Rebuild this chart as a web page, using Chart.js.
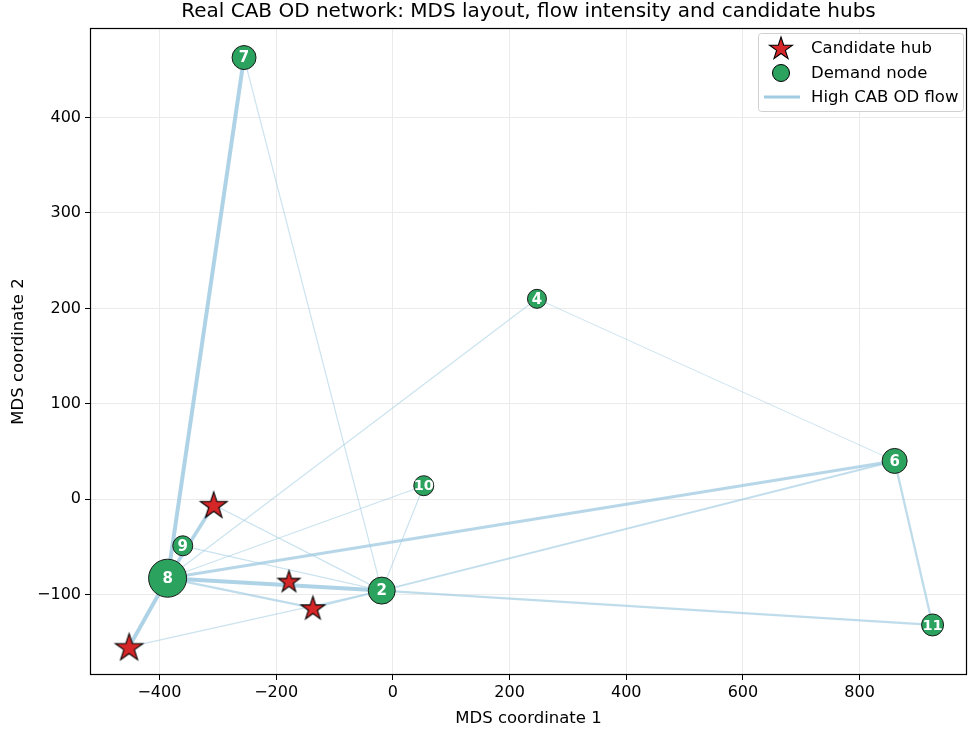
<!DOCTYPE html>
<html>
<head>
<meta charset="utf-8">
<script src="https://cdn.jsdelivr.net/npm/chart.js@4/dist/chart.umd.min.js"></script>
<style>
  html, body { margin: 0; padding: 0; background: #fff; overflow: hidden; width: 968px; height: 729px; }
  canvas { display: block; }
</style>
</head>
<body>
<canvas id="mdsChart" width="987" height="729"></canvas>
<script>
// demand nodes (MDS coordinates)
const nodeIds = ['7', '4', '6', '10', '9', '8', '2', '11'];
const nodeX = [-255, 247, 860, 53, -360, -386, -19, 925];
const nodeY = [463, 210, 40, 14, -49, -83, -96, -132];
const nodeSize = [12, 9.5, 12.5, 10, 10, 19, 13.5, 11];

// candidate hubs
const hubIds = ['H1', 'H2', 'H3', 'H4'];
const hubX = [-307, -178, -137, -452];
const hubY = [-6, -86, -114, -155];
const hubSize = [14, 11.5, 12.5, 14.5];

// high CAB OD flows
const edgeFrom = ['7', '7', '4', '4', '6', '6', '6', '2', '10', '10', 'H1', 'H1', 'H4', 'H4', '8', '8', 'H3', '9'];
const edgeTo   = ['8', '2', '8', '6', '8', '2', '11', '11', '8', '2', '8', '2', '8', '2', '2', 'H3', '2', '2'];
const edgeFlow = [4, 1.2, 1.2, 1, 3, 2, 2.3, 2.3, 1.2, 1.2, 3.5, 1.3, 4, 1.2, 4, 2.3, 2, 1.2];

const xTicks = [-400, -200, 0, 200, 400, 600, 800];
const yTicks = [-100, 0, 100, 200, 300, 400];

const FONT = "'DejaVu Sans', sans-serif";

function pos(id) {
  let i = nodeIds.indexOf(id);
  if (i >= 0) return { x: nodeX[i], y: nodeY[i] };
  i = hubIds.indexOf(id);
  return { x: hubX[i], y: hubY[i] };
}

function starImage(r) {
  const s = Math.ceil(r * 2 + 4);
  const c = document.createElement('canvas');
  c.width = s; c.height = s;
  const g = c.getContext('2d');
  const cx = s / 2, cy = s / 2 + r * 0.08, ri = r * 0.382;
  g.beginPath();
  for (let k = 0; k < 10; k++) {
    const rad = k % 2 === 0 ? r : ri;
    const a = -Math.PI / 2 + k * Math.PI / 5;
    const px = cx + rad * Math.cos(a), py = cy + rad * Math.sin(a);
    if (k === 0) g.moveTo(px, py); else g.lineTo(px, py);
  }
  g.closePath();
  g.fillStyle = '#d62728';
  g.fill();
  g.lineWidth = 1.1;
  g.strokeStyle = '#000';
  g.stroke();
  return c;
}

const datasets = [];
datasets.push({
  label: 'Demand node',
  data: nodeX.map((x, i) => ({ x: x, y: nodeY[i] })),
  pointRadius: nodeSize,
  pointHoverRadius: nodeSize,
  backgroundColor: '#2ca25f',
  borderColor: '#1a1a1a',
  borderWidth: 1,
  showLine: false
});
datasets.push({
  label: 'Candidate hub',
  data: hubX.map((x, i) => ({ x: x, y: hubY[i] })),
  pointStyle: hubSize.map(r => starImage(r)),
  pointRadius: hubSize,
  showLine: false
});
edgeFrom.forEach((f, i) => {
  const a = pos(f), b = pos(edgeTo[i]);
  const w = edgeFlow[i];
  const alpha = Math.min(0.85, 0.4 + w * 0.12);
  datasets.push({
    label: 'flow',
    data: [a, b],
    showLine: true,
    pointRadius: 0,
    borderColor: 'rgba(160,203,226,' + alpha + ')',
    borderWidth: w,
    fill: false
  });
});

const framePlugin = {
  id: 'frame',
  afterDatasetsDraw(chart) {
    const ctx = chart.ctx;
    const meta = chart.getDatasetMeta(0);
    ctx.save();
    ctx.fillStyle = '#fff';
    ctx.textAlign = 'center';
    ctx.textBaseline = 'middle';
    meta.data.forEach((pt, i) => {
      ctx.font = 'bold ' + (nodeIds[i].length > 1 ? 14.5 : 15) + 'px ' + FONT;
      ctx.fillText(nodeIds[i], pt.x, pt.y + 1);
    });
    ctx.restore();
  },
  afterDraw(chart) {
    const ctx = chart.ctx;
    const a = chart.chartArea;
    ctx.save();
    ctx.strokeStyle = '#000';
    ctx.lineWidth = 1.2;
    ctx.strokeRect(a.left + 0.5, a.top + 0.5, a.right - a.left - 1, a.bottom - a.top - 1);

    // title
    ctx.fillStyle = '#000';
    ctx.font = '20px ' + FONT;
    ctx.textAlign = 'center';
    ctx.textBaseline = 'middle';
    ctx.fillText('Real CAB OD network: MDS layout, flow intensity and candidate hubs', (a.left + a.right) / 2, 12);

    // legend
    const lx = 758, ly = 33, lw = 205, lh = 78;
    ctx.fillStyle = 'rgba(255,255,255,0.85)';
    ctx.strokeStyle = '#d0d0d0';
    ctx.lineWidth = 1;
    ctx.beginPath();
    ctx.roundRect(lx + 0.5, ly + 0.5, lw, lh, 3);
    ctx.fill();
    ctx.stroke();
    const st = starImage(12);
    ctx.drawImage(st, 781 - st.width / 2, 48 - st.height / 2);
    ctx.beginPath();
    ctx.arc(781, 73, 8.5, 0, Math.PI * 2);
    ctx.fillStyle = '#2ca25f';
    ctx.fill();
    ctx.strokeStyle = '#000';
    ctx.stroke();
    ctx.beginPath();
    ctx.moveTo(764, 97);
    ctx.lineTo(800, 97);
    ctx.strokeStyle = 'rgb(160,203,226)';
    ctx.lineWidth = 3;
    ctx.stroke();
    ctx.fillStyle = '#000';
    ctx.font = '16.5px ' + FONT;
    ctx.textAlign = 'left';
    ctx.fillText('Candidate hub', 811, 49);
    ctx.fillText('Demand node', 811, 74);
    ctx.fillText('High CAB OD flow', 811, 98);
    ctx.restore();
  }
};

const fmt = v => (v < 0 ? '\u2212' + Math.abs(v) : String(v));

document.addEventListener('DOMContentLoaded', function() {
  const ctx = document.getElementById('mdsChart').getContext('2d');
  new Chart(ctx, {
    type: 'scatter',
    data: { datasets: datasets },
    options: {
      responsive: false,
      animation: false,
      layout: { padding: { left: 0, right: 1, top: 28, bottom: 0 } },
      plugins: {
        legend: { display: false },
        tooltip: { enabled: false },
        title: { display: false }
      },
      scales: {
        x: {
          type: 'linear',
          min: -519,
          max: 984,
          afterBuildTicks: s => { s.ticks = xTicks.map(v => ({ value: v })); },
          afterFit: s => { s.height = 54; s.paddingLeft = 0; s.paddingRight = 0; },
          grid: { color: '#ebebeb', tickColor: '#000', tickLength: 5 },
          border: { display: false },
          ticks: { color: '#000', font: { family: FONT, size: 16 }, padding: 3, callback: v => fmt(v), maxRotation: 0 },
          title: { display: true, text: 'MDS coordinate 1', color: '#000', font: { family: FONT, size: 16.5 }, padding: { top: 4, bottom: 0 } }
        },
        y: {
          type: 'linear',
          min: -184.5,
          max: 494,
          afterBuildTicks: s => { s.ticks = yTicks.map(v => ({ value: v })); },
          afterFit: s => { s.width = 90; s.paddingTop = 0; s.paddingBottom = 0; },
          grid: { color: '#ebebeb', tickColor: '#000', tickLength: 5 },
          border: { display: false },
          ticks: { color: '#000', font: { family: FONT, size: 16 }, padding: 4, callback: v => fmt(v) },
          title: { display: true, text: 'MDS coordinate 2', color: '#000', font: { family: FONT, size: 16.5 }, padding: { top: 9, bottom: 2 } }
        }
      }
    },
    plugins: [framePlugin]
  });
});
</script>
</body>
</html>
